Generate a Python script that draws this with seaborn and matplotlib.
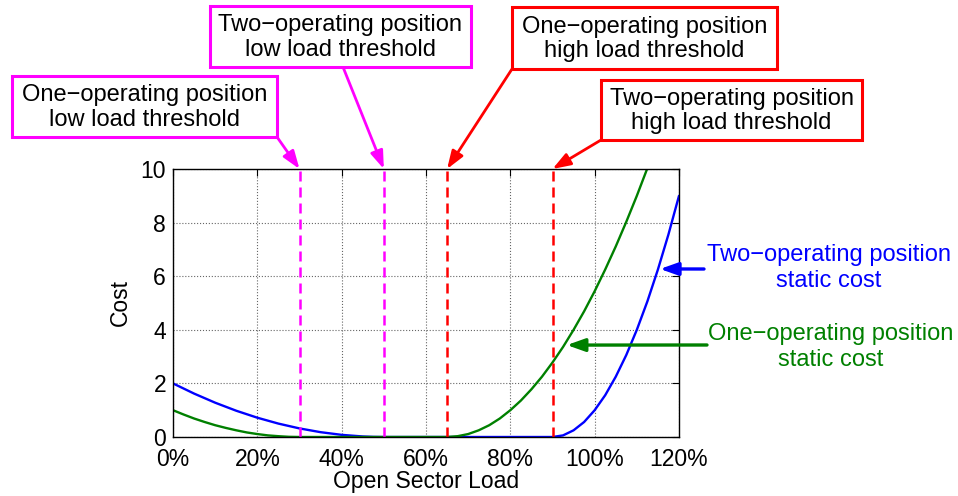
import numpy as np
import pandas as pd
import seaborn as sns
import matplotlib.pyplot as plt
from matplotlib.patches import Rectangle

# Values (Open Sector Load in %, cost)
load_pct = [0, 2.5, 5, 7.5, 10, 12.5, 15, 17.5, 20, 22.5, 25, 27.5, 30, 32.5, 35, 37.5,
            40, 42.5, 45, 47.5, 50, 52.5, 55, 57.5, 60, 62.5, 65, 67.5, 70, 72.5, 75, 77.5,
            80, 82.5, 85, 87.5, 90, 92.5, 95, 97.5, 100, 102.5, 105, 107.5, 110, 112.5, 115,
            117.5, 120]
two_op_cost = [2.00, 1.81, 1.62, 1.45, 1.28, 1.13, 0.98, 0.85, 0.72, 0.61, 0.50, 0.41, 0.32,
               0.25, 0.18, 0.13, 0.08, 0.05, 0.02, 0.005, 0, 0, 0, 0, 0, 0, 0, 0, 0, 0, 0, 0,
               0, 0, 0, 0, 0, 0.06, 0.25, 0.56, 1.00, 1.56, 2.25, 3.06, 4.00, 5.06, 6.25,
               7.56, 9.00]
one_op_cost = [1.00, 0.84, 0.69, 0.56, 0.44, 0.34, 0.25, 0.17, 0.11, 0.06, 0.03, 0.007, 0,
               0, 0, 0, 0, 0, 0, 0, 0, 0, 0, 0, 0, 0, 0, 0.03, 0.11, 0.25, 0.44, 0.69,
               1.00, 1.36, 1.78, 2.25, 2.78, 3.36, 4.00, 4.69, 5.44, 6.25, 7.11, 8.03, 9.00,
               10.03, 11.11, 12.25, 13.44]

thresholds_low = [30, 50]    # magenta
thresholds_high = [65, 90]   # red
x_ticks = [0, 20, 40, 60, 80, 100, 120]
x_ticklabels = ['0%', '20%', '40%', '60%', '80%', '100%', '120%']
y_ticks = [0, 2, 4, 6, 8, 10]

df = pd.DataFrame({'load': load_pct, 'two': two_op_cost, 'one': one_op_cost})

sns.set_style('white')
plt.rcParams['font.family'] = ['Liberation Sans', 'DejaVu Sans']
plt.rcParams['text.color'] = 'black'
plt.rcParams['axes.labelcolor'] = 'black'

W, H = 958, 496
fig = plt.figure(figsize=(W / 100, H / 100), dpi=100)
ax = fig.add_axes([173 / W, (H - 437) / H, 506 / W, 268 / H])

sns.lineplot(x='load', y='two', data=df, ax=ax, color='#0000ff', lw=1.7)
sns.lineplot(x='load', y='one', data=df, ax=ax, color='#008000', lw=1.7)

for t in thresholds_low:
    ax.axvline(t, color='#ff00ff', lw=1.8, dashes=(4, 2.4))
for t in thresholds_high:
    ax.axvline(t, color='#ff0000', lw=1.8, dashes=(4, 2.4))

ax.set_xlim(0, 120)
ax.set_ylim(0, 10)
ax.set_xticks(x_ticks)
ax.set_xticklabels(x_ticklabels)
ax.set_yticks(y_ticks)
ax.tick_params(direction='in', length=5, width=0.8, labelsize=16.5,
               top=True, right=True, colors='black', labelcolor='black')
ax.tick_params(axis='x', pad=8)
ax.tick_params(axis='y', pad=5)
ax.grid(True, color='0.4', linestyle=':', lw=0.8)
for s in ax.spines.values():
    s.set_color('black')
    s.set_linewidth(1.0)
ax.set_xlabel('Open Sector Load', fontsize=16.5, labelpad=-1)
ax.set_ylabel('Cost', fontsize=16.5, labelpad=6)


def fpos(x, y):
    return (x / W, 1 - y / H)


def box(x0, y0, x1, y1, text, ec):
    fig.patches.append(Rectangle(fpos(x0, y1), (x1 - x0) / W, (y1 - y0) / H,
                                 transform=fig.transFigure, fc='white', ec=ec, lw=2.2))
    fig.text(*fpos((x0 + x1) / 2, (y0 + y1) / 2 + 1), text, ha='center', va='center',
             fontsize=17, linespacing=1.12)


def arrow(target, start, color, lw=2):
    ax.annotate('', xy=target, xycoords='data', xytext=fpos(*start),
                textcoords='figure fraction', annotation_clip=False,
                arrowprops=dict(arrowstyle='-|>,head_length=0.9,head_width=0.32',
                                color=color, lw=lw, mutation_scale=12,
                                shrinkA=0, shrinkB=0))


box(12, 76, 277, 137, 'One\u2212operating position\nlow load threshold', '#ff00ff')
box(210, 6, 471, 67, 'Two\u2212operating position\nlow load threshold', '#ff00ff')
box(512, 7, 777, 69, 'One\u2212operating position\nhigh load threshold', '#ff0000')
box(601, 80, 862, 140, 'Two\u2212operating position\nhigh load threshold', '#ff0000')

arrow((30, 10), (277, 137), '#ff00ff')
arrow((50, 10), (343, 67), '#ff00ff')
arrow((65, 10), (512, 69), '#ff0000')
arrow((90, 10), (601, 140), '#ff0000')

fig.text(*fpos(829, 268), 'Two\u2212operating position\nstatic cost', ha='center',
         va='center', fontsize=17, linespacing=1.22, color='#0000ff')
fig.text(*fpos(831, 347), 'One\u2212operating position\nstatic cost', ha='center',
         va='center', fontsize=17, linespacing=1.18, color='#008000')
arrow((115.5, 6.27), (704, 269), '#0000ff', lw=2.4)
arrow((93.4, 3.43), (707, 345), '#008000', lw=2.4)

fig.savefig('out.png', dpi=100)
